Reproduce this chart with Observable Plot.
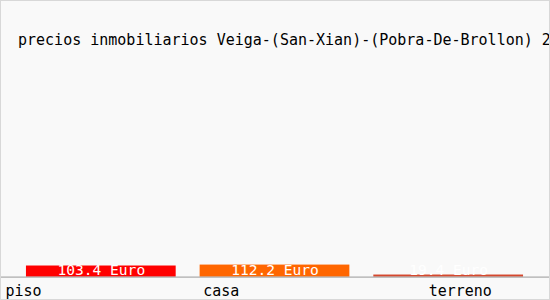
<!DOCTYPE html>
<html>
<head>
<meta charset="utf-8">
<script src="https://cdn.jsdelivr.net/npm/d3@7"></script>
<script src="https://cdn.jsdelivr.net/npm/@observablehq/plot@0.6"></script>
<style>
  html, body { margin: 0; padding: 0; background: #ffffff; }
  #chart {
    position: relative; width: 548px; height: 298px;
    border: 1px solid #d8d8d8; background: #f9f9f9; overflow: hidden;
    font-family: "DejaVu Sans Mono", "Liberation Mono", monospace;
  }
  #title {
    position: absolute; left: 17px; top: 30px; white-space: nowrap;
    font-size: 15px; color: #000;
  }
  #plot { position: absolute; left: -1px; top: 61px; }
</style>
</head>
<body>
<div id="chart">
  <div id="title">precios inmobiliarios Veiga-(San-Xian)-(Pobra-De-Brollon) 2</div>
  <div id="plot"></div>
</div>
<script>
const categories = ["piso", "casa", "terreno"];
const values = [103.4, 112.2, 19.4];
const valueLabels = ["103.4 Euro", "112.2 Euro", "19.4 Euro"];
const colors = ["#ff0000", "#ff6600", "#d5482e"];
const labelShift = [-96, -72, -20];

const data = categories.map((c, i) => ({cat: c, value: values[i], label: valueLabels[i], color: colors[i]}));

const chart = Plot.plot({
  width: 550,
  height: 240,
  marginLeft: 25,
  marginRight: 24,
  marginTop: 0,
  marginBottom: 25,
  style: {background: "transparent", fontFamily: "DejaVu Sans Mono, monospace"},
  x: {domain: categories, padding: 0.137, paddingOuter: 0, axis: null},
  y: {domain: [0, 2000], axis: null},
  marks: [
    Plot.barY(data, {x: "cat", y: "value", fill: "color"}),
    Plot.ruleY([0], {stroke: "#999999", insetLeft: -26, insetRight: -26}),
    Plot.text(data, {x: "cat", y: 0, text: "label", fill: "white", dy: -7, fontSize: 14.6}),
    ...data.map((d, i) => Plot.text([d], {x: "cat", y: 0, text: "cat", textAnchor: "start", dx: labelShift[i], dy: 14, fontSize: 15, fill: "black"}))
  ]
});
document.getElementById("plot").appendChild(chart);
</script>
</body>
</html>
